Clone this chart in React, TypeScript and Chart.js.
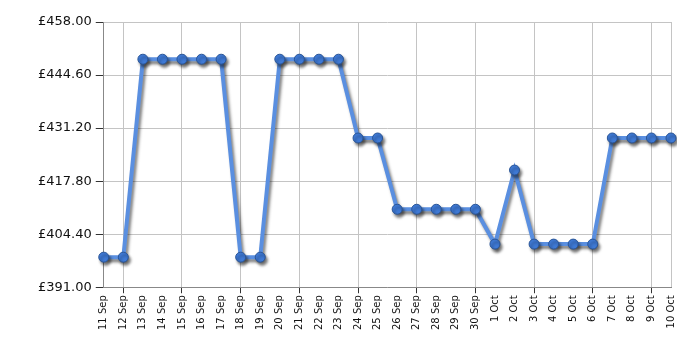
import React, { useEffect, useRef } from "react";
import { Chart, registerables } from "chart.js";

Chart.register(...registerables);

const labels = [
  "11 Sep", "12 Sep", "13 Sep", "14 Sep", "15 Sep", "16 Sep", "17 Sep", "18 Sep", "19 Sep", "20 Sep",
  "21 Sep", "22 Sep", "23 Sep", "24 Sep", "25 Sep", "26 Sep", "27 Sep", "28 Sep", "29 Sep", "30 Sep",
  "1 Oct", "2 Oct", "3 Oct", "4 Oct", "5 Oct", "6 Oct", "7 Oct", "8 Oct", "9 Oct", "10 Oct",
];

const prices = [
  398.6, 398.6, 448.6, 448.6, 448.6, 448.6, 448.6, 398.6, 398.6, 448.6,
  448.6, 448.6, 448.6, 428.7, 428.7, 410.7, 410.7, 410.7, 410.7, 410.7,
  401.9, 420.6, 401.9, 401.9, 401.9, 401.9, 428.7, 428.7, 428.7, 428.7,
];

const yTicks = [391.0, 404.4, 417.8, 431.2, 444.6, 458.0];

const shadowPlugin = {
  id: "lineShadow",
  beforeDatasetDraw(chart: any) {
    const ctx = chart.ctx;
    ctx.save();
    ctx.shadowColor = "rgba(0,0,0,0.5)";
    ctx.shadowBlur = 3;
    ctx.shadowOffsetX = 2;
    ctx.shadowOffsetY = 3;
  },
  afterDatasetDraw(chart: any) {
    chart.ctx.restore();
  },
};

export default function App() {
  const ref = useRef<HTMLCanvasElement | null>(null);
  useEffect(() => {
    if (!ref.current) return;
    const chart = new Chart(ref.current, {
      type: "line",
      data: {
        labels,
        datasets: [
          {
            data: prices,
            borderColor: "#5a8fe0",
            borderWidth: 4,
            backgroundColor: "#3f7ad6",
            pointBackgroundColor: "#3f7ad6",
            pointBorderColor: "#2a5596",
            pointBorderWidth: 1,
            pointRadius: 5,
            tension: 0,
            fill: false,
          },
        ],
      },
      options: {
        animation: false,
        responsive: false,
        maintainAspectRatio: false,
        layout: { padding: { left: 34, right: 29, top: 22, bottom: 18 } },
        plugins: { legend: { display: false }, tooltip: { enabled: false } },
        scales: {
          x: {
            offset: false,
            border: { color: "#888888", width: 1 },
            grid: {
              color: (c: any) => (c.index % 3 === 1 || c.index === 0 || c.index === labels.length - 1 ? "#c4c4c4" : "rgba(0,0,0,0)"),
              tickColor: (c: any) => (c.index % 3 === 1 ? "#333333" : "rgba(0,0,0,0)"),
              tickLength: 6,
              lineWidth: 1,
            },
            ticks: {
              autoSkip: false,
              minRotation: 90,
              maxRotation: 90,
              color: "#111111",
              font: { family: "DejaVu Sans", size: 10 },
              padding: 2,
            },
          },
          y: {
            min: 391,
            max: 458,
            border: { color: "#888888", width: 1 },
            afterBuildTicks: (axis: any) => {
              axis.ticks = yTicks.map((v) => ({ value: v }));
            },
            grid: { color: "#c4c4c4", tickColor: "#333333", tickLength: 8, lineWidth: 1 },
            ticks: {
              color: "#111111",
              font: { family: "DejaVu Sans", size: 13 },
              padding: 4,
              callback: (v: any) => "£" + Number(v).toFixed(2),
            },
          },
        },
      },
      plugins: [shadowPlugin],
    });
    return () => chart.destroy();
  }, []);
  return (
    <div style={{ position: "fixed", left: 0, top: 0, width: 700, height: 350, background: "#fff" }}>
      <canvas ref={ref} width={700} height={350} style={{ width: 700, height: 350 }} />
    </div>
  );
}
